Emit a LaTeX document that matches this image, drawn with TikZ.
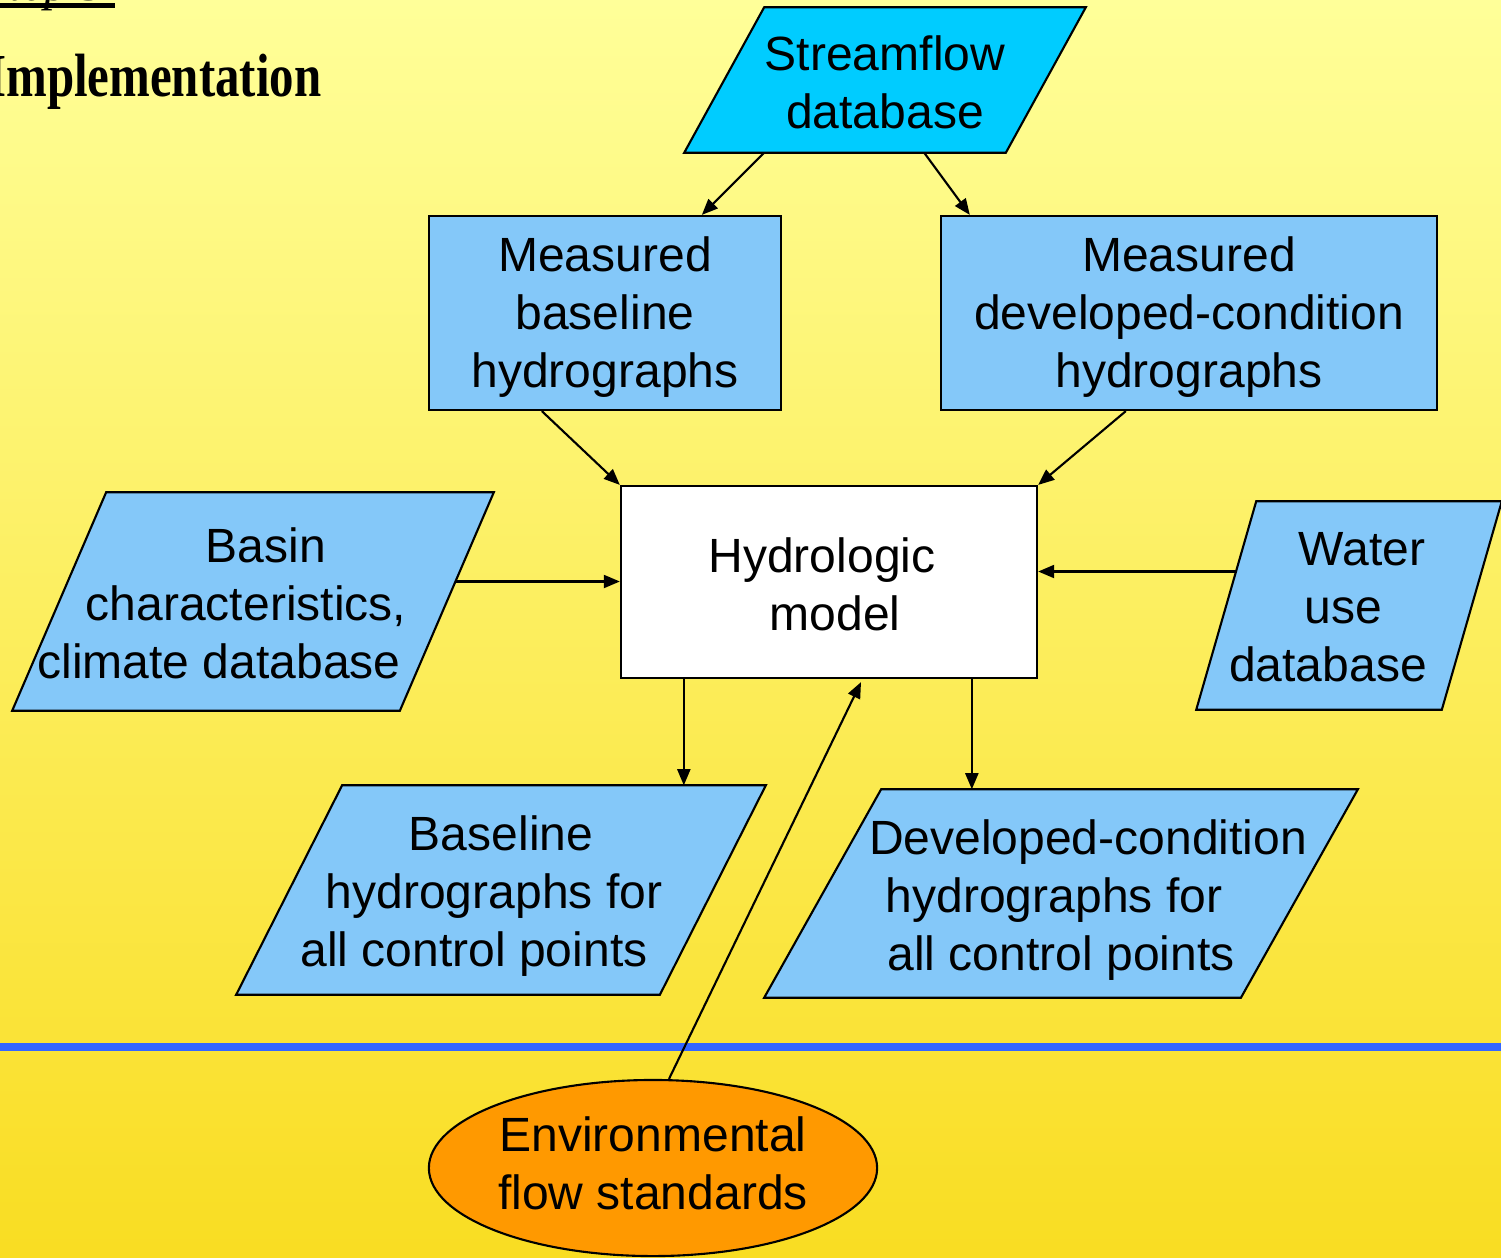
\documentclass[tikz,border=0pt]{standalone}
\usepackage{fontspec}
\setmainfont{Liberation Sans}
\newfontfamily\headfont{Liberation Serif}
\usetikzlibrary{arrows.meta,calc,shapes.geometric,backgrounds}

\definecolor{bgtop}{RGB}{255,255,153}
\definecolor{bgbot}{RGB}{249,221,34}
\definecolor{boxblue}{RGB}{132,200,249}
\definecolor{dbcyan}{RGB}{0,204,255}
\definecolor{rulerblue}{RGB}{51,102,255}
\definecolor{stdorange}{RGB}{255,153,0}

% fixed horizontal padding inside a centred line
\newcommand{\pad}[1]{\rule{#1}{0pt}}

\begin{document}
\begin{tikzpicture}[x=0.01cm,y=-0.01cm,
  label text/.style={font=\fontsize{13.66}{16.5}\selectfont, align=center, inner sep=0pt},
  procbox/.style={draw=black, line width=0.6pt, fill=boxblue, inner sep=0pt},
  iobox/.style={inner sep=0pt},
  pgramfill/.style={draw=black, line width=0.6pt, fill=#1},
  link/.style={draw=black, line width=0.6pt, -{Triangle[length=0.16cm,width=0.13cm]}},
  headtext/.style={inner sep=0pt, font=\headfont\fontsize{13.9}{16}\selectfont}
]
\useasboundingbox (0,0) rectangle (1501,1257);
\clip (0,0) rectangle (1501,1257);

% yellow gradient backdrop
\begin{scope}[on background layer]
  \shade[top color=bgtop, bottom color=bgbot] (0,0) rectangle (1501,1257);
\end{scope}

% heading
\node[headtext, anchor=base east] (step) at (106,0) {\itshape Step 5};
\draw[line width=0.05cm] ($(step.base west)+(0,5)$) -- ($(step.base east)+(9,5)$);
\node[headtext, anchor=base east] (impl) at (322,96) {\bfseries\scalebox{1}[1.25]{Implementation}};

% shapes: process boxes and data-store frames
\node[iobox, minimum width=4.00cm, minimum height=1.44cm] (sf) at (885,80) {};
\node[procbox, minimum width=3.52cm, minimum height=1.94cm] (mb) at (605,313) {};
\node[procbox, minimum width=4.96cm, minimum height=1.94cm] (md) at (1189,313) {};
\node[procbox, fill=white, minimum width=4.16cm, minimum height=1.92cm] (hm) at (829,582) {};
\node[iobox, minimum width=4.80cm, minimum height=2.17cm] (basin) at (253,601.5) {};
\node[iobox, minimum width=3.04cm, minimum height=2.07cm] (wu) at (1349,605.5) {};
\node[iobox, minimum width=5.28cm, minimum height=2.08cm] (bl) at (501,890) {};
\node[iobox, minimum width=5.92cm, minimum height=2.07cm] (dc) at (1061,893.5) {};

% parallelogram outlines of the data stores
\begin{scope}[on background layer]
  \path[pgramfill=dbcyan] ($(sf.north west)+(80,0)$) -- (sf.north east)
    -- ($(sf.south east)+(-80,0)$) -- (sf.south west) -- cycle;
  \path[pgramfill=boxblue] ($(basin.north west)+(94,0)$) -- (basin.north east)
    -- ($(basin.south east)+(-94,0)$) -- (basin.south west) -- cycle;
  \path[pgramfill=boxblue] ($(wu.north west)+(60,0)$) -- (wu.north east)
    -- ($(wu.south east)+(-60,0)$) -- (wu.south west) -- cycle;
  \path[pgramfill=boxblue] ($(bl.north west)+(106,0)$) -- (bl.north east)
    -- ($(bl.south east)+(-106,0)$) -- (bl.south west) -- cycle;
  \path[pgramfill=boxblue] ($(dc.north west)+(117,0)$) -- (dc.north east)
    -- ($(dc.south east)+(-117,0)$) -- (dc.south west) -- cycle;
\end{scope}

% labels
\node[label text] (sft) at ($(sf.center)+(0,2)$) {Streamflow\\database};
\node[label text] (mbt) at ($(mb.center)+(0,4)$) {Measured\\baseline\\hydrographs};
\node[label text] (mdt) at ($(md.center)+(0,4)$) {Measured\\developed-condition\\hydrographs};
\node[label text] (hmt) at ($(hm.center)+(0,2)$) {Hydrologic\pad{0.14cm}\\\pad{0.12cm}model};
\node[label text] (basint) at ($(basin.center)+(0,2)$)
  {\pad{0.26cm}Basin\\characteristics,\pad{0.14cm}\\climate database\pad{0.68cm}};
\node[label text] (wut) at ($(wu.center)+(0,2)$)
  {\pad{0.26cm}Water\\use\pad{0.12cm}\\database\pad{0.42cm}};
\node[label text] (blt) at ($(bl.center)+(0,6)$)
  {Baseline\\hydrographs for\pad{0.14cm}\\all control points\pad{0.54cm}};
\node[label text] (dct) at ($(dc.center)+(0,7)$)
  {\pad{0.54cm}Developed-condition\\hydrographs for\pad{0.14cm}\\all control points};

% horizontal divider
\fill[rulerblue] (0,1043) rectangle (1501,1051);

% standards ellipse
\node[ellipse, draw=black, line width=0.6pt, fill=stdorange,
      minimum width=4.48cm, minimum height=1.76cm, inner sep=0pt] (env) at (653,1168) {};
\node[label text] (envt) at ($(env.center)+(0,-5)$) {Environmental\\flow standards};

% connector end points on the slanted edges
\coordinate (sfl) at ($(sf.south west)+(80,0)$);
\coordinate (sfr) at ($(sf.south west)+(240,0)$);
\coordinate (basinout) at ($(basin.east)+(-39,-20)$);
\coordinate (wuout) at ($(wu.west)+(40,-34)$);
\coordinate (hmbl) at ($(hm.south west)+(64,0)$);
\coordinate (hmdc) at ($(hm.south west)+(352,0)$);

% connectors
\draw[link] (sfl) -- ($(mb.north west)+(274,0)$);
\draw[link] (sfr) -- ($(md.north west)+(30,0)$);
\draw[link] ($(mb.south west)+(114,0)$) -- (hm.north west);
\draw[link] ($(md.south west)+(186,0)$) -- (hm.north east);
\draw[link] (basinout) -- (basinout -| hm.west);
\draw[link] (wuout) -- (wuout -| hm.east);
\draw[link] (hmbl) -- (hmbl |- bl.north);
\draw[link] (hmdc) -- (hmdc |- dc.north);
\draw[link] ($(env.north)+(16,0)$) -- ($(hm.south)+(32,3)$);
\end{tikzpicture}
\end{document}
